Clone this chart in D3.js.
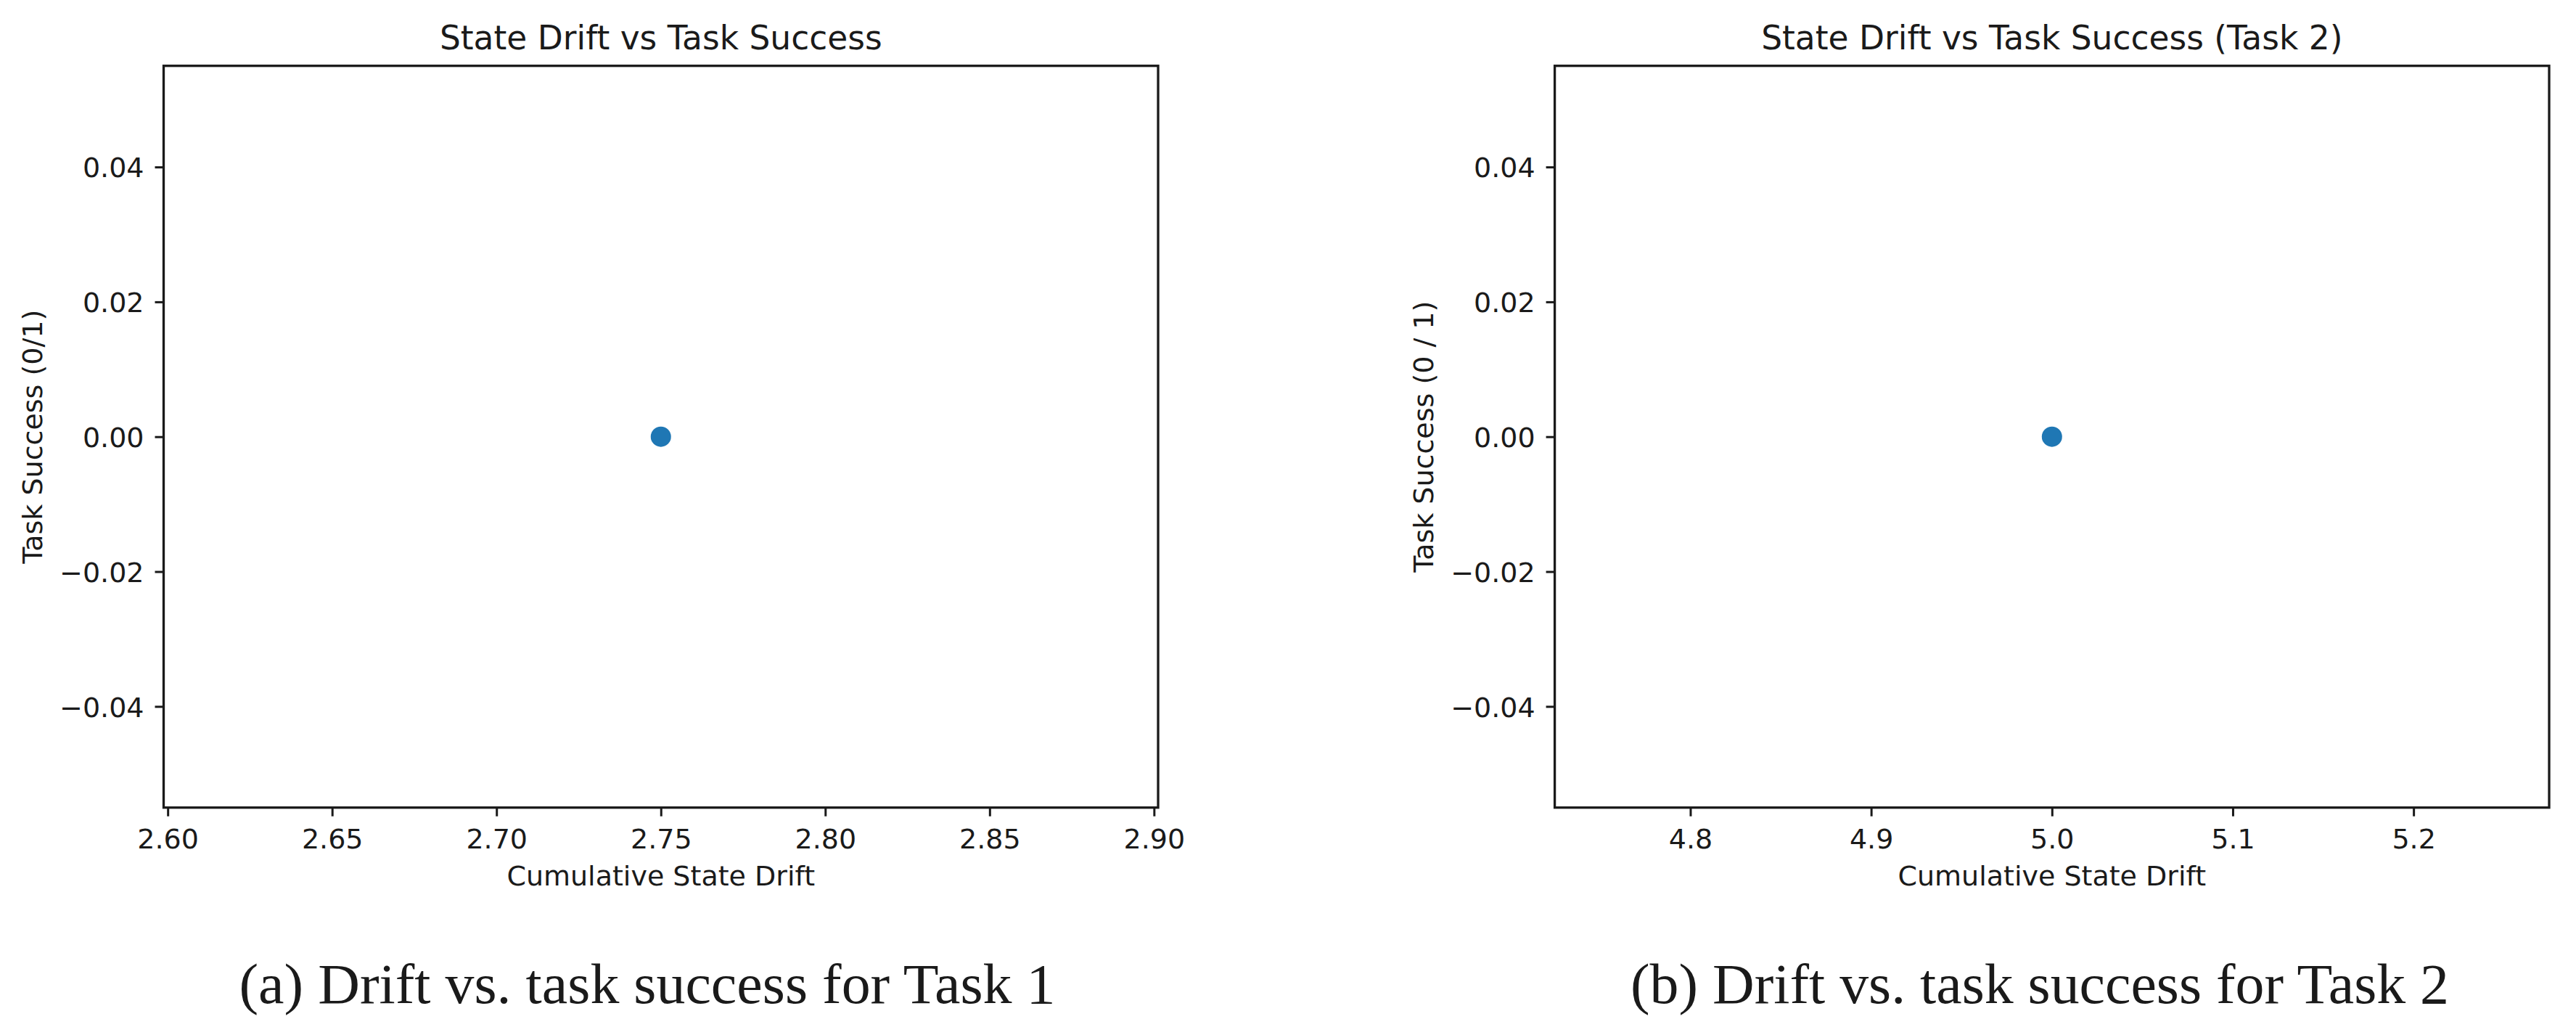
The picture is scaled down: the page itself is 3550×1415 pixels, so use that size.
<!DOCTYPE html>
<html>
<head>
<meta charset="utf-8">
<script src="https://cdn.jsdelivr.net/npm/d3@7"></script>
<style>
  html, body { margin: 0; padding: 0; background: #fff; }
  svg { display: block; }
</style>
</head>
<body>
<svg id="chart" width="3550" height="1415"></svg>
<script>
// ---- data ----
const panelTitles = ["State Drift vs Task Success", "State Drift vs Task Success (Task 2)"];
const xLabels = ["Cumulative State Drift", "Cumulative State Drift"];
const yLabels = ["Task Success (0/1)", "Task Success (0 / 1)"];
const captions = ["(a) Drift vs. task success for Task 1", "(b) Drift vs. task success for Task 2"];
const task1Drift = [2.75];
const task1Success = [0];
const task2Drift = [5.0];
const task2Success = [0];
const xDomains = [[2.59875, 2.90125], [4.725, 5.275]];
const yDomain = [-0.055, 0.055];
const xTicks1 = [2.60, 2.65, 2.70, 2.75, 2.80, 2.85, 2.90];
const xTicks2 = [4.8, 4.9, 5.0, 5.1, 5.2];
const yTicks = [-0.04, -0.02, 0.00, 0.02, 0.04];

const panels = [
  { title: panelTitles[0], xl: xLabels[0], yl: yLabels[0], cap: captions[0],
    xs: task1Drift, ys: task1Success, xd: xDomains[0], xt: xTicks1, xf: d3.format(".2f"),
    left: 225.5, right: 1596, capX: 892, capW: 1125 },
  { title: panelTitles[1], xl: xLabels[1], yl: yLabels[1], cap: captions[1],
    xs: task2Drift, ys: task2Success, xd: xDomains[1], xt: xTicks2, xf: d3.format(".1f"),
    left: 2142.6, right: 3513, capX: 2811, capW: 1128 }
];

const plotTop = 90.7, plotBottom = 1112.7;
const svg = d3.select("#chart");
const sans = "'DejaVu Sans', sans-serif";
const tickFont = 38, titleFont = 45.5;
const ink = "#1a1a1a";
const minusFmt = f => (d => f(d).replace("-", "\u2212"));
const yFmt = minusFmt(d3.format(".2f"));

panels.forEach(p => {
  const x = d3.scaleLinear().domain(p.xd).range([p.left, p.right]);
  const y = d3.scaleLinear().domain(yDomain).range([plotBottom, plotTop]);
  const g = svg.append("g");

  // points
  g.selectAll("circle.pt").data(p.xs.map((v, i) => [v, p.ys[i]]))
    .enter().append("circle")
    .attr("cx", d => x(d[0])).attr("cy", d => y(d[1]))
    .attr("r", 14).attr("fill", "#1f77b4");

  // x axis
  const xAxis = d3.axisBottom(x).tickValues(p.xt).tickFormat(p.xf).tickSize(12).tickPadding(10);
  const gx = g.append("g").attr("transform", `translate(0,${plotBottom})`).call(xAxis);
  gx.select(".domain").remove();
  gx.selectAll(".tick line").attr("stroke", ink).attr("stroke-width", 3);
  gx.selectAll(".tick text").attr("font-family", sans).attr("font-size", tickFont)
    .attr("fill", ink).attr("dy", null).attr("y", 56);

  // y axis
  const yAxis = d3.axisLeft(y).tickValues(yTicks).tickFormat(yFmt).tickSize(12).tickPadding(15);
  const gy = g.append("g").attr("transform", `translate(${p.left},0)`).call(yAxis);
  gy.select(".domain").remove();
  gy.selectAll(".tick line").attr("stroke", ink).attr("stroke-width", 3);
  gy.selectAll(".tick text").attr("font-family", sans).attr("font-size", tickFont)
    .attr("fill", ink).attr("dy", "0.36em");

  // frame
  g.append("rect").attr("x", p.left).attr("y", plotTop)
    .attr("width", p.right - p.left).attr("height", plotBottom - plotTop)
    .attr("fill", "none").attr("stroke", ink).attr("stroke-width", 3.3);

  // title
  g.append("text").attr("x", (p.left + p.right) / 2).attr("y", 68)
    .attr("text-anchor", "middle").attr("font-family", sans).attr("font-size", titleFont)
    .attr("fill", ink).text(p.title);

  // x label
  g.append("text").attr("x", (p.left + p.right) / 2).attr("y", 1220)
    .attr("text-anchor", "middle").attr("font-family", sans).attr("font-size", tickFont)
    .attr("fill", ink).text(p.xl);

  // y label
  const ylx = p.left - 167.5, yly = (plotTop + plotBottom) / 2;
  g.append("text").attr("transform", `translate(${ylx},${yly}) rotate(-90)`)
    .attr("text-anchor", "middle").attr("font-family", sans).attr("font-size", tickFont)
    .attr("fill", ink).text(p.yl);

  // caption
  g.append("text").attr("x", p.capX).attr("y", 1382)
    .attr("text-anchor", "middle").attr("font-family", "'Liberation Serif', serif")
    .attr("font-size", 78).attr("fill", ink)
    .attr("textLength", p.capW).attr("lengthAdjust", "spacingAndGlyphs")
    .text(p.cap);
});
</script>
</body>
</html>
